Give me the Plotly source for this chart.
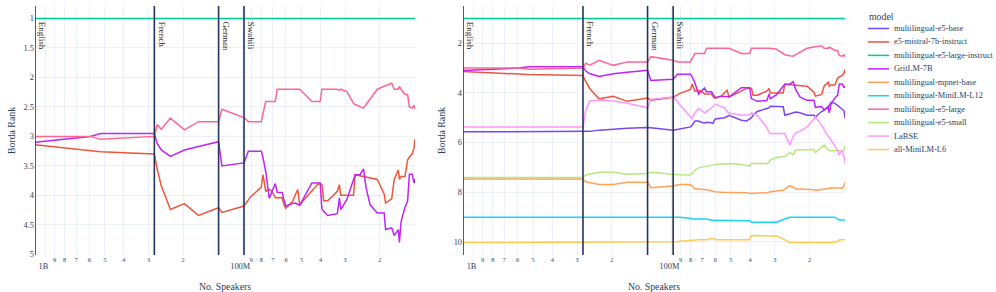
import numpy as np
import plotly.graph_objects as go
from plotly.subplots import make_subplots

# ---------------- data ----------------
speakers_millions = [1132, 591, 526, 280, 271, 258, 232, 197, 167, 132, 127, 98, 93.2, 91.1,
                     80.1, 78.6, 76.0, 72.9, 70.7, 68.0, 66.4, 62.7, 61.6, 60.1, 55.7, 53.8,
                     52.3, 51.1, 44.3, 41.6, 40.2, 39.4, 38.6, 36.8, 32.9, 32.1, 31.6, 29.4,
                     27.2, 26.7, 25.2, 24.2, 23.5, 22.4, 20.6, 19.0, 18.7, 17.4, 16.9, 16.1,
                     15.9, 15.6, 14.9, 14.45, 14.15, 13.7, 13.4, 13.25]

rank_e5_base = [5.57, 5.57, 5.57, 5.57, 5.56, 5.55, 5.5, 5.45, 5.42, 5.39, 5.4, 5.5,
                5.47, 5.45, 5.37, 5.3, 5.13, 5.13, 5.18, 5.21, 5.18, 5.2, 5.23, 5.05,
                5.03, 5.0, 4.95, 4.9, 5.1, 5.13, 5.05, 5.0, 4.9, 4.75, 4.63, 4.6,
                4.54, 4.55, 4.56, 4.9, 4.85, 4.8, 4.77, 4.8, 4.9, 4.9, 4.97, 4.75,
                4.7, 4.54, 4.5, 4.38, 4.42, 4.5, 4.57, 4.65, 4.72, 5.03]
rank_e5_mistral = [3.14, 3.245, 3.26, 3.3, 3.55, 3.84, 4.24, 4.14, 4.34, 4.21, 4.29, 4.18,
                   4.07, 4.03, 3.86, 3.65, 3.93, 3.9, 3.93, 4.04, 4.04, 4.04, 4.15, 4.22,
                   4.11, 4.0, 3.9, 4.16, 3.93, 3.82, 3.8, 3.82, 4.09, 4.09, 3.93, 3.82,
                   4.0, 4.0, 4.0, 3.65, 3.67, 3.68, 3.69, 3.7, 3.73, 3.98, 4.13, 4.06,
                   3.73, 3.57, 3.73, 3.68, 3.68, 3.4, 3.35, 3.3, 3.2, 3.05]
rank_e5_large_instruct = [1.0, 1.0, 1.0, 1.0, 1.0, 1.0, 1.0, 1.0, 1.0, 1.0, 1.0, 1.0,
                          1.0, 1.0, 1.0, 1.0, 1.0, 1.0, 1.0, 1.0, 1.0, 1.0, 1.0, 1.0,
                          1.0, 1.0, 1.0, 1.0, 1.0, 1.0, 1.0, 1.0, 1.0, 1.0, 1.0, 1.0,
                          1.0, 1.0, 1.0, 1.0, 1.0, 1.0, 1.0, 1.0, 1.0, 1.0, 1.0, 1.0,
                          1.0, 1.0, 1.0, 1.0, 1.0, 1.0, 1.0, 1.0, 1.0, 1.0]
rank_gritlm = [3.1, 3.0, 2.95, 2.95, 3.12, 3.23, 3.34, 3.23, 3.17, 3.09, 3.5, 3.45,
               3.25, 3.25, 3.25, 3.35, 3.6, 4.05, 3.93, 3.8, 3.95, 3.95, 4.06, 4.18,
               4.14, 4.13, 4.15, 4.17, 3.79, 3.79, 3.79, 4.23, 4.27, 4.34, 4.31, 4.04,
               4.24, 4.07, 3.73, 3.65, 3.65, 3.55, 3.87, 4.16, 4.3, 4.3, 4.58, 4.55,
               4.68, 4.58, 4.8, 4.45, 4.2, 4.1, 3.64, 3.64, 3.79, 3.72]
rank_mpnet = [7.47, 7.47, 7.47, 7.47, 7.58, 7.62, 7.69, 7.69, 7.6, 7.6, 7.82, 7.75,
              7.69, 7.69, 7.69, 7.75, 7.87, 7.87, 7.87, 7.87, 7.9, 7.95, 7.97, 7.98,
              8.0, 8.0, 8.0, 8.0, 8.0, 8.02, 8.05, 8.05, 8.05, 8.05, 8.02, 8.0,
              7.98, 7.95, 7.92, 7.88, 7.74, 7.8, 7.87, 7.87, 7.87, 7.9, 7.93, 7.9,
              7.87, 7.85, 7.84, 7.82, 7.82, 7.82, 7.82, 7.84, 7.75, 7.6]
rank_minilm_l12 = [9.01, 9.01, 9.01, 9.01, 9.01, 9.01, 9.01, 9.01, 9.01, 9.01, 9.01, 9.01,
                   9.01, 9.01, 9.05, 9.08, 9.08, 9.08, 9.08, 9.08, 9.08, 9.12, 9.15, 9.13,
                   9.13, 9.13, 9.13, 9.13, 9.13, 9.13, 9.15, 9.21, 9.21, 9.21, 9.21, 9.21,
                   9.21, 9.21, 9.1, 9.08, 9.01, 9.01, 9.01, 9.01, 9.01, 9.01, 9.01, 9.01,
                   9.01, 9.01, 9.01, 9.01, 9.01, 9.08, 9.12, 9.12, 9.12, 9.12]
rank_e5_large = [3.0, 3.0, 3.05, 3.0, 2.8, 2.88, 2.69, 2.89, 2.75, 2.75, 2.54, 2.68,
                 2.75, 2.75, 2.75, 2.62, 2.41, 2.41, 2.41, 2.41, 2.2, 2.2, 2.2, 2.2,
                 2.2, 2.2, 2.2, 2.2, 2.41, 2.41, 2.41, 2.2, 2.2, 2.2, 2.2, 2.22,
                 2.2, 2.24, 2.44, 2.46, 2.5, 2.52, 2.46, 2.36, 2.2, 2.15, 2.14, 2.1,
                 2.2, 2.2, 2.15, 2.2, 2.29, 2.29, 2.5, 2.52, 2.47, 2.54]
rank_e5_small = [7.41, 7.41, 7.41, 7.41, 7.31, 7.28, 7.2, 7.2, 7.28, 7.25, 7.2, 7.28,
                 7.3, 7.3, 7.31, 7.25, 7.11, 7.02, 7.0, 6.97, 6.93, 6.91, 6.9, 6.88,
                 6.86, 6.85, 6.84, 6.84, 6.88, 6.93, 6.95, 6.84, 6.84, 6.84, 6.84, 6.8,
                 6.7, 6.6, 6.57, 6.56, 6.41, 6.5, 6.3, 6.3, 6.29, 6.28, 6.4, 6.2,
                 6.1, 6.3, 6.33, 6.33, 6.33, 6.33, 6.33, 6.37, 6.3, 6.1]
rank_labse = [5.37, 5.37, 5.37, 5.37, 4.7, 4.32, 4.3, 4.33, 4.42, 4.6, 4.26, 4.16,
              4.36, 4.46, 4.97, 5.03, 4.8, 4.63, 4.7, 4.8, 4.75, 4.6, 4.55, 4.45,
              4.55, 4.6, 4.75, 4.81, 4.9, 4.9, 4.88, 4.81, 4.84, 4.9, 5.4, 5.6,
              5.64, 5.64, 5.64, 5.64, 6.1, 5.75, 5.62, 5.55, 5.37, 5.05, 4.97, 5.3,
              5.5, 5.77, 5.8, 5.9, 6.17, 6.3, 6.5, 6.3, 6.6, 6.84]
rank_minilm_l6 = [10.03, 10.03, 10.03, 10.03, 10.03, 10.03, 10.03, 10.03, 10.03, 10.03, 10.03, 10.03,
                  10.0, 9.98, 9.93, 9.92, 9.92, 9.92, 9.92, 9.92, 9.92, 9.87, 9.86, 9.92,
                  9.92, 9.92, 9.92, 9.92, 9.92, 9.92, 9.92, 9.75, 9.75, 9.75, 9.75, 9.75,
                  9.75, 9.77, 9.88, 9.92, 10.03, 10.03, 10.03, 10.03, 10.03, 10.03, 10.03, 10.03,
                  10.03, 10.03, 10.03, 10.03, 10.03, 9.98, 9.92, 9.92, 9.92, 9.92]

models = ["multilingual-e5-base", "e5-mistral-7b-instruct", "multilingual-e5-large-instruct",
          "GritLM-7B", "multilingual-mpnet-base", "multilingual-MiniLM-L12",
          "multilingual-e5-large", "multilingual-e5-small", "LaBSE", "all-MiniLM-L6"]
model_colors = ["#7A45F4", "#EF553B", "#00CC96", "#BE24F8", "#FFA15A", "#19D3F3",
                "#FF6692", "#B6E880", "#FF97FF", "#FECB52"]
model_ranks = [rank_e5_base, rank_e5_mistral, rank_e5_large_instruct, rank_gritlm, rank_mpnet,
               rank_minilm_l12, rank_e5_large, rank_e5_small, rank_labse, rank_minilm_l6]
left_panel_models = ["e5-mistral-7b-instruct", "multilingual-e5-large-instruct",
                     "GritLM-7B", "multilingual-e5-large"]

languages = ["English", "French", "German", "Swahili"]
language_speakers_millions = [1132, 280, 132, 98]

# ---------------- figure ----------------
for r in model_ranks:
    assert len(r) == len(speakers_millions)

FONT = "Liberation Serif"
GRID = "#EBF0F8"
VLINE = "#24335A"

x_vals = [m * 1e6 for m in speakers_millions]
x_range = [np.log10(max(x_vals)), np.log10(min(x_vals))]  # reversed log axis
color_of = dict(zip(models, model_colors))
ranks_of = dict(zip(models, model_ranks))

fig = make_subplots(rows=1, cols=2)

for name in models:
    if name in left_panel_models:
        fig.add_trace(go.Scatter(x=x_vals, y=ranks_of[name], mode="lines", name=name,
                                 line=dict(color=color_of[name], width=1.5),
                                 showlegend=False), row=1, col=1)
for name in models:
    fig.add_trace(go.Scatter(x=x_vals, y=ranks_of[name], mode="lines", name=name,
                             line=dict(color=color_of[name], width=1.5),
                             showlegend=False), row=1, col=2)

fig.update_xaxes(type="log", range=x_range, dtick="D1", showgrid=True,
                 gridcolor=GRID, zeroline=False, showline=False, ticks="",
                 tickfont=dict(family=FONT, size=8.4),
                 title=dict(text="No. Speakers", font=dict(family=FONT, size=9.8)),
                 automargin=False)
fig.update_yaxes(autorange="reversed", showgrid=True, gridcolor=GRID, zeroline=False,
                 showline=False, ticks="", tickfont=dict(family=FONT, size=8.4),
                 title=dict(text="Borda Rank", font=dict(family=FONT, size=9.8), standoff=6),
                 automargin=False)
fig.update_yaxes(dtick=0.5, row=1, col=1)
fig.update_yaxes(dtick=2, row=1, col=2)

# language marker lines + labels
for xr, yr in [("x", "y"), ("x2", "y2")]:
    for lang, m in zip(languages, language_speakers_millions):
        fig.add_shape(type="line", xref=xr, yref=yr + " domain", x0=m * 1e6, x1=m * 1e6,
                      y0=0, y1=1, line=dict(color=VLINE, width=1.6))
        fig.add_annotation(x=np.log10(m * 1e6), xref=xr, y=0.945, yref=yr + " domain",
                           text=lang, textangle=90, showarrow=False, xanchor="left",
                           yanchor="top", xshift=0,
                           font=dict(family=FONT, size=9, color="#1a1a1a"))

# legend drawn in paper space
W, H = 996, 292
ML, MR, MT, MB = 35, 151, 6, 37
pw, ph = W - ML - MR, H - MT - MB


def px_to_paper(px, py):
    return (px - ML) / pw, (H - MB - py) / ph


lx0, ly = px_to_paper(867, 16)
fig.add_annotation(x=lx0, y=ly, xref="paper", yref="paper", text="model", showarrow=False,
                   xanchor="left", yanchor="middle", font=dict(family=FONT, size=9.8, color="#2a3f5f"))
for i, name in enumerate(models):
    py = 28.5 + 13.45 * i
    a, yy = px_to_paper(868, py)
    b, _ = px_to_paper(889, py)
    t, _ = px_to_paper(892, py)
    fig.add_shape(type="line", xref="paper", yref="paper", x0=a, x1=b, y0=yy, y1=yy,
                  line=dict(color=color_of[name], width=1.5))
    fig.add_annotation(x=t, y=yy, xref="paper", yref="paper", text=name, showarrow=False,
                       xanchor="left", yanchor="middle",
                       font=dict(family=FONT, size=8.4, color="#2a3f5f"))

fig.update_layout(
    template="plotly_white",
    width=W, height=H,
    margin=dict(l=ML, r=MR, t=MT, b=MB),
    font=dict(family=FONT, size=8.4),
    showlegend=False,
    hovermode=False,
    xaxis=dict(domain=[0, 380 / pw]),
    xaxis2=dict(domain=[428 / pw, 1]),
)

fig.write_html("out.html", config={"displayModeBar": False},
               post_script="document.body.style.margin='0px';document.body.style.overflow='hidden';")
